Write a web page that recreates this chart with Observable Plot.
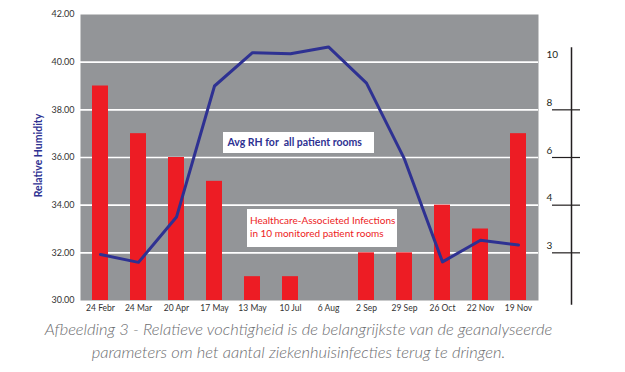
<!DOCTYPE html>
<html><head><meta charset="utf-8">
<script src="https://cdn.jsdelivr.net/npm/d3@7"></script>
<script src="https://cdn.jsdelivr.net/npm/@observablehq/plot@0.6"></script>
<style>
body{margin:0;background:#fff;font-family:Lato,"Open Sans",sans-serif;}
#wrap{position:relative;width:625px;height:372px;}
.note{position:absolute;background:#fff;box-sizing:border-box;white-space:nowrap;}
#rhNote{left:223px;top:132px;width:151px;height:21px;line-height:21px;padding-left:4.5px;font-size:10.5px;font-weight:bold;color:#2e3192;}
#haiNote{left:247px;top:209px;width:150px;height:38px;line-height:13px;padding:4.5px 0 0 3px;font-size:10px;color:#ed1c24;}
#caption{position:absolute;left:0;top:318px;width:597px;text-align:center;font-style:italic;font-weight:300;font-size:16.5px;line-height:23px;color:#6d6e71;}
</style></head><body>
<div id="wrap"><div id="chart"></div>
<div class="note" id="rhNote"></div>
<div class="note" id="haiNote"></div>
<div id="caption"></div>
</div>
<script>
const dates = ["24 Febr","24 Mar","20 Apr","17 May","13 May","10 Jul","6 Aug","2 Sep","29 Sep","26 Oct","22 Nov","19 Nov"];
const infections = [9,7,6,5,1,1,0,2,2,4,3,7];
const avgRH = [31.93,31.6,33.5,39.0,40.4,40.35,40.64,39.12,35.93,31.62,32.53,32.33];
const leftTicks = [30,32,34,36,38,40,42];
const gridLines = [32,34,36,38,40];
const rightTickValues = [40,38,36,34,32];
const rightTickLabels = ["10","8","6","4","3"];
const rightTickMarks = [38,36,34,32];
const rightAxisSpan = [29.8,40.6];
const rhBase = 30;
const yTitle = "Relative Humidity";
const rhNoteText = "Avg RH for\u00a0 all patient rooms";
const haiNoteLines = ["Healthcare-Associeted Infections","in 10 monitored patient rooms"];
const captionLines = ["Afbeelding 3 - Relatieve vochtigheid is de belangrijkste van de geanalyseerde","parameters om het aantal ziekenhuisinfecties terug te dringen."];

const rows = dates.map((d,i)=>({date:d, count:infections[i], rh:avgRH[i]}));

const chart = Plot.plot({
  width:625, height:318, marginLeft:80, marginRight:87, marginTop:14, marginBottom:18,
  style:{fontFamily:"Lato, sans-serif", color:"#231f20", background:"transparent", overflow:"visible"},
  x:{type:"band", domain:dates, paddingInner:0.58, paddingOuter:0.29},
  y:{domain:[30,42]},
  marks:[
    Plot.frame({fill:"#939598", stroke:"none"}),
    Plot.ruleY(gridLines, {stroke:"#fff", strokeWidth:1.6}),
    Plot.barY(rows, {x:"date", y1:()=>rhBase, y2:d=>rhBase+d.count, fill:"#ed1c24"}),
    Plot.lineY(rows, {x:"date", y:"rh", stroke:"#2e3192", strokeWidth:3}),
    Plot.axisY({anchor:"left", ticks:leftTicks, tickSize:0, tickPadding:6, tickFormat:d3.format(".2f"), fontSize:9, label:null, fill:"#333"}),
    Plot.axisX({anchor:"bottom", tickSize:0, tickPadding:4, fontSize:8.5, label:null, fill:"#333"}),
    Plot.text([yTitle], {frameAnchor:"left", textAnchor:"middle", rotate:-90, dx:-42, dy:-2, text:d=>d, fill:"#2e3192", fontSize:10.5, fontWeight:"bold"}),
    Plot.ruleX([rightAxisSpan], {x:null, y1:d=>d[0], y2:d=>d[1], dx:262, stroke:"#231f20", strokeWidth:1.5}),
    Plot.axisY({anchor:"right", ticks:rightTickMarks, tickSize:28, tickFormat:()=>"", dx:13, label:null, stroke:"#231f20", strokeWidth:1.2}),
    Plot.text(rightTickValues, {y:d=>d, text:(d,i)=>rightTickLabels[i], frameAnchor:"right", dx:8, dy:-7, textAnchor:"start", fontSize:10, fill:"#231f20"})
  ]
});
document.getElementById("chart").append(chart);
document.getElementById("rhNote").textContent = rhNoteText;
document.getElementById("haiNote").innerHTML = haiNoteLines.join("<br>");
document.getElementById("caption").innerHTML = captionLines.join("<br>");
</script>
</body></html>
